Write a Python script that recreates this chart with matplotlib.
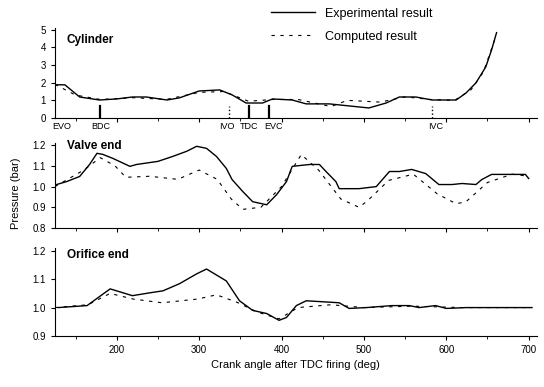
import numpy as np
import matplotlib
matplotlib.use('Agg')
import matplotlib.pyplot as plt
from matplotlib.ticker import MultipleLocator

plt.rcParams['font.family'] = ['Liberation Sans', 'DejaVu Sans']

# crank angle (deg) and pressure (bar)
cyl_ang_exp = [125, 137, 155, 179, 200, 219, 236, 261, 276, 300, 325, 340, 357, 377, 389, 413,
               430, 458, 506, 527, 543, 563, 583, 600, 612, 624, 636, 648, 655, 661]
cyl_p_exp = [1.88, 1.88, 1.19, 1.02, 1.08, 1.19, 1.19, 1.02, 1.14, 1.53, 1.59, 1.31, 0.85, 0.85, 1.08, 1.02,
             0.80, 0.80, 0.57, 0.85, 1.19, 1.19, 1.02, 1.02, 1.02, 1.42, 1.99, 2.90, 3.86, 4.83]
cyl_ang_cmp = [125, 150, 180, 220, 260, 300, 330, 360, 390, 420, 460, 480, 520, 550, 580, 610, 630, 645, 660]
cyl_p_cmp = [1.90, 1.30, 1.05, 1.15, 1.05, 1.45, 1.50, 0.95, 1.05, 1.05, 0.65, 1.00, 0.90, 1.20, 1.05, 1.00, 1.60, 2.60, 4.60]

valve_ang_exp = [127, 139, 155, 167, 176, 183, 195, 216, 224, 250, 268, 285, 297, 309, 321, 333, 340, 353,
                 365, 382, 394, 406, 413, 434, 446, 454, 466, 470, 494, 515, 531, 543, 558, 575, 591, 607,
                 619, 636, 643, 655, 676, 696, 700]
valve_p_exp = [1.010, 1.024, 1.049, 1.107, 1.161, 1.156, 1.137, 1.098, 1.107, 1.122, 1.146, 1.171, 1.195,
               1.185, 1.146, 1.088, 1.034, 0.976, 0.927, 0.912, 0.961, 1.024, 1.098, 1.107, 1.107, 1.073,
               1.024, 0.990, 0.990, 1.000, 1.073, 1.073, 1.083, 1.063, 1.010, 1.010, 1.015, 1.010, 1.034,
               1.059, 1.059, 1.059, 1.039]
valve_ang_cmp = [125, 160, 180, 198, 211, 240, 274, 300, 322, 339, 353, 375, 400, 424, 445, 472, 494, 504,
                 530, 560, 589, 612, 624, 650, 680, 700]
valve_p_cmp = [1.00, 1.08, 1.14, 1.10, 1.045, 1.05, 1.035, 1.08, 1.035, 0.94, 0.89, 0.90, 1.00, 1.155,
               1.08, 0.94, 0.90, 0.93, 1.03, 1.06, 0.965, 0.917, 0.927, 1.02, 1.06, 1.05]

orif_ang_exp = [129, 164, 192, 219, 240, 256, 276, 297, 309, 333, 349, 365, 382, 397, 406, 418, 430, 470,
                482, 503, 534, 555, 567, 587, 600, 624, 655, 704]
orif_p_exp = [1.000, 1.007, 1.066, 1.042, 1.052, 1.059, 1.084, 1.119, 1.136, 1.094, 1.024, 0.990, 0.979,
              0.955, 0.965, 1.007, 1.024, 1.017, 0.997, 1.000, 1.007, 1.007, 1.000, 1.007, 0.997, 1.000,
              1.000, 1.000]
orif_ang_cmp = [125, 165, 192, 220, 255, 298, 321, 345, 370, 397, 420, 460, 500, 560, 620, 700]
orif_p_cmp = [1.00, 1.01, 1.05, 1.03, 1.017, 1.03, 1.045, 1.02, 0.985, 0.96, 1.00, 1.01, 1.00, 1.005, 1.00, 1.00]

# valve events marked on the cylinder panel
event_ang = [180, 336, 360, 385, 583]
event_style = ['-', ':', '-', '-', ':']
event_lbl_ang = [133, 180, 333, 360, 390, 587]
event_lbl = ['EVO', 'BDC', 'IVO', 'TDC', 'EVC', 'IVC']

fig = plt.figure(figsize=(5.44, 3.87), dpi=100)
L, W = 0.101, 0.886
ax1 = fig.add_axes([L, 0.695, W, 0.233])
ax2 = fig.add_axes([L, 0.411, W, 0.219])
ax3 = fig.add_axes([L, 0.132, W, 0.227])

for ax in (ax1, ax2, ax3):
    ax.set_xlim(125, 710)
    ax.xaxis.set_major_locator(MultipleLocator(100))
    ax.xaxis.set_minor_locator(MultipleLocator(50))
    ax.spines['top'].set_visible(False)
    ax.spines['right'].set_visible(False)
    ax.tick_params(labelsize=7, length=3, width=0.8)
    ax.tick_params(which='minor', length=2)

ax1.plot(cyl_ang_exp, cyl_p_exp, 'k-', lw=1.0, label='Experimental result')
ax1.plot(cyl_ang_cmp, cyl_p_cmp, 'k--', lw=0.8, dashes=(3, 5), label='Computed result')
ax1.set_ylim(0, 5.1)
ax1.set_yticks([0, 1, 2, 3, 4, 5])
ax1.tick_params(labelbottom=False)
for a, s in zip(event_ang, event_style):
    ax1.plot([a, a], [0, 0.7], color='k', ls=s, lw=1.6 if s == '-' else 1.0)
for a, t in zip(event_lbl_ang, event_lbl):
    ax1.text(a, -0.25, t, ha='center', va='top', fontsize=6.5)
ax1.text(0.025, 0.87, 'Cylinder', transform=ax1.transAxes, fontsize=8.5, fontweight='bold', va='center')

ax2.plot(valve_ang_exp, valve_p_exp, 'k-', lw=1.0)
ax2.plot(valve_ang_cmp, valve_p_cmp, 'k--', lw=0.8, dashes=(3, 5))
ax2.set_ylim(0.8, 1.21)
ax2.set_yticks([0.8, 0.9, 1.0, 1.1, 1.2])
ax2.tick_params(labelbottom=False)
ax2.text(0.025, 0.97, 'Valve end', transform=ax2.transAxes, fontsize=8.5, fontweight='bold', va='center')

ax3.plot(orif_ang_exp, orif_p_exp, 'k-', lw=1.0)
ax3.plot(orif_ang_cmp, orif_p_cmp, 'k--', lw=0.8, dashes=(3, 5))
ax3.set_ylim(0.9, 1.21)
ax3.set_yticks([0.9, 1.0, 1.1, 1.2])
ax3.text(0.025, 0.92, 'Orifice end', transform=ax3.transAxes, fontsize=8.5, fontweight='bold', va='center')
ax3.set_xlabel('Crank angle after TDC firing (deg)', fontsize=8)

fig.text(0.03, 0.5, 'Pressure (bar)', rotation=90, ha='center', va='center', fontsize=8)

h, l = ax1.get_legend_handles_labels()
fig.legend(h, l, loc='upper left', bbox_to_anchor=(0.485, 1.0), frameon=False, fontsize=9,
           handlelength=3.5, borderaxespad=0.2, labelspacing=0.9)

fig.savefig('out.png', dpi=100)
